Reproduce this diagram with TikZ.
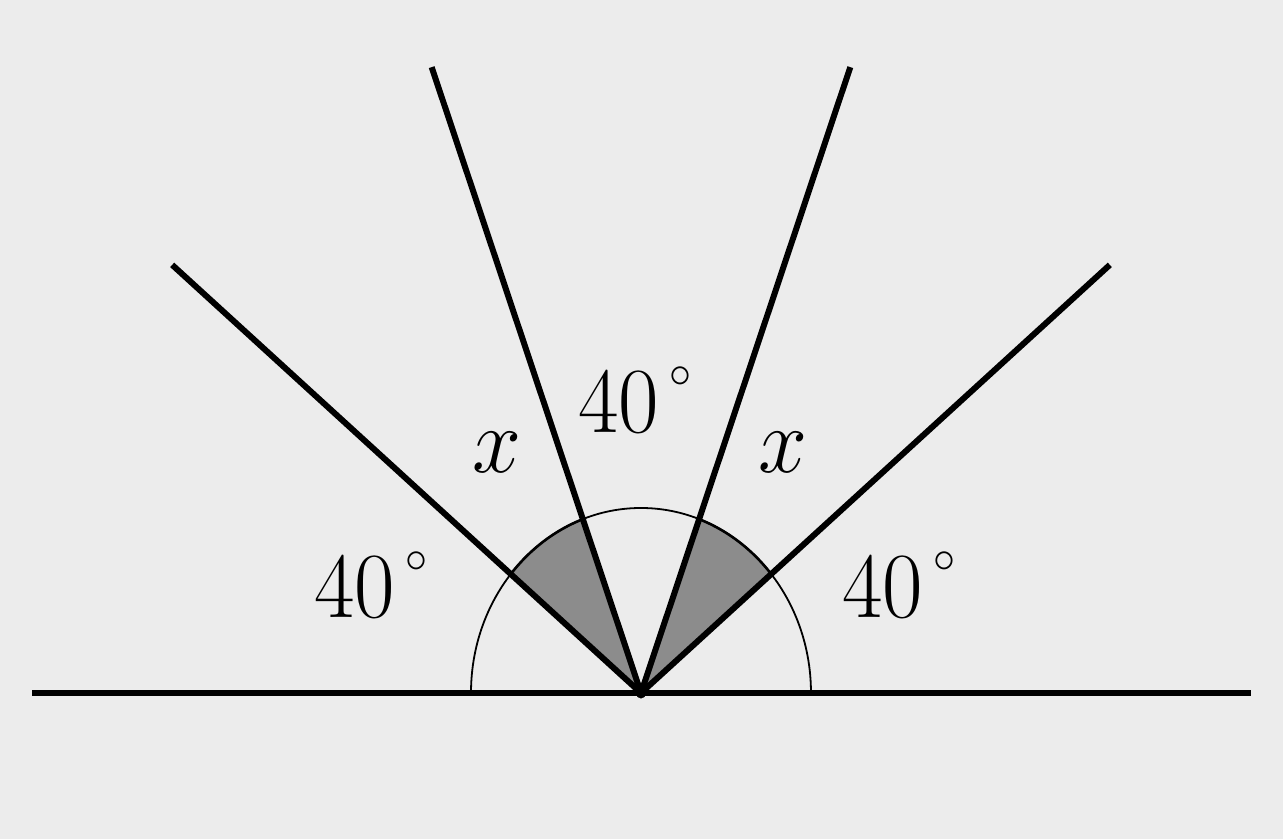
\RequirePackage{fix-cm}
\documentclass[tikz,border=0pt]{standalone}
\usepackage{graphicx}
\definecolor{bg}{RGB}{236,236,236}
\definecolor{shade}{RGB}{140,140,140}
\newcommand{\degtxt}{\scalebox{1}[1.06]{$40^{\,\raisebox{5pt}{$\scriptscriptstyle\circ$}}$}}
\begin{document}
\begin{tikzpicture}[x=85pt,y=92.5pt,
  ray/.style={line width=3pt},
  lbl/.style={font=\fontsize{44}{48}\selectfont, inner sep=0pt},
  sector/.style={fill=shade, draw=black, line width=1.3pt}]
\fill[bg] (-3.7706,-0.7892) rectangle (3.7765,3.7459);
\useasboundingbox (-3.7706,-0.7892) rectangle (3.7765,3.7459);
\coordinate (O) at (0,0);
\coordinate (L) at (-3.58,0);
\coordinate (R) at (3.59,0);
\coordinate (A) at (140:3.6);
\coordinate (B) at (110:3.6);
\coordinate (C) at (70:3.6);
\coordinate (D) at (40:3.6);
% shaded sectors
\filldraw[sector] (O) -- (140:1) arc[start angle=140, end angle=110, radius=1] -- cycle;
\filldraw[sector] (O) -- (70:1) arc[start angle=70, end angle=40, radius=1] -- cycle;
% thin semicircle
\draw[line width=0.9pt] (1,0) arc[start angle=0, end angle=180, radius=1];
% lines
\draw[ray] (L) -- (R);
\draw[ray] (O) -- (A);
\draw[ray] (O) -- (B);
\draw[ray] (O) -- (C);
\draw[ray] (O) -- (D);
\fill (O) circle[radius=0.03];
% labels
\node[lbl,anchor=base] (l1) at (-1.585,0.41) {\degtxt};
\node[lbl,anchor=base] (l2) at (-0.035,1.41) {\degtxt};
\node[lbl,anchor=base] (l3) at (1.52,0.41) {\degtxt};
\node[lbl] (x1) at (-0.847,1.303) {\scalebox{1}[1.06]{$x$}};
\node[lbl] (x2) at (0.835,1.303) {\scalebox{1}[1.06]{$x$}};
\end{tikzpicture}
\end{document}
